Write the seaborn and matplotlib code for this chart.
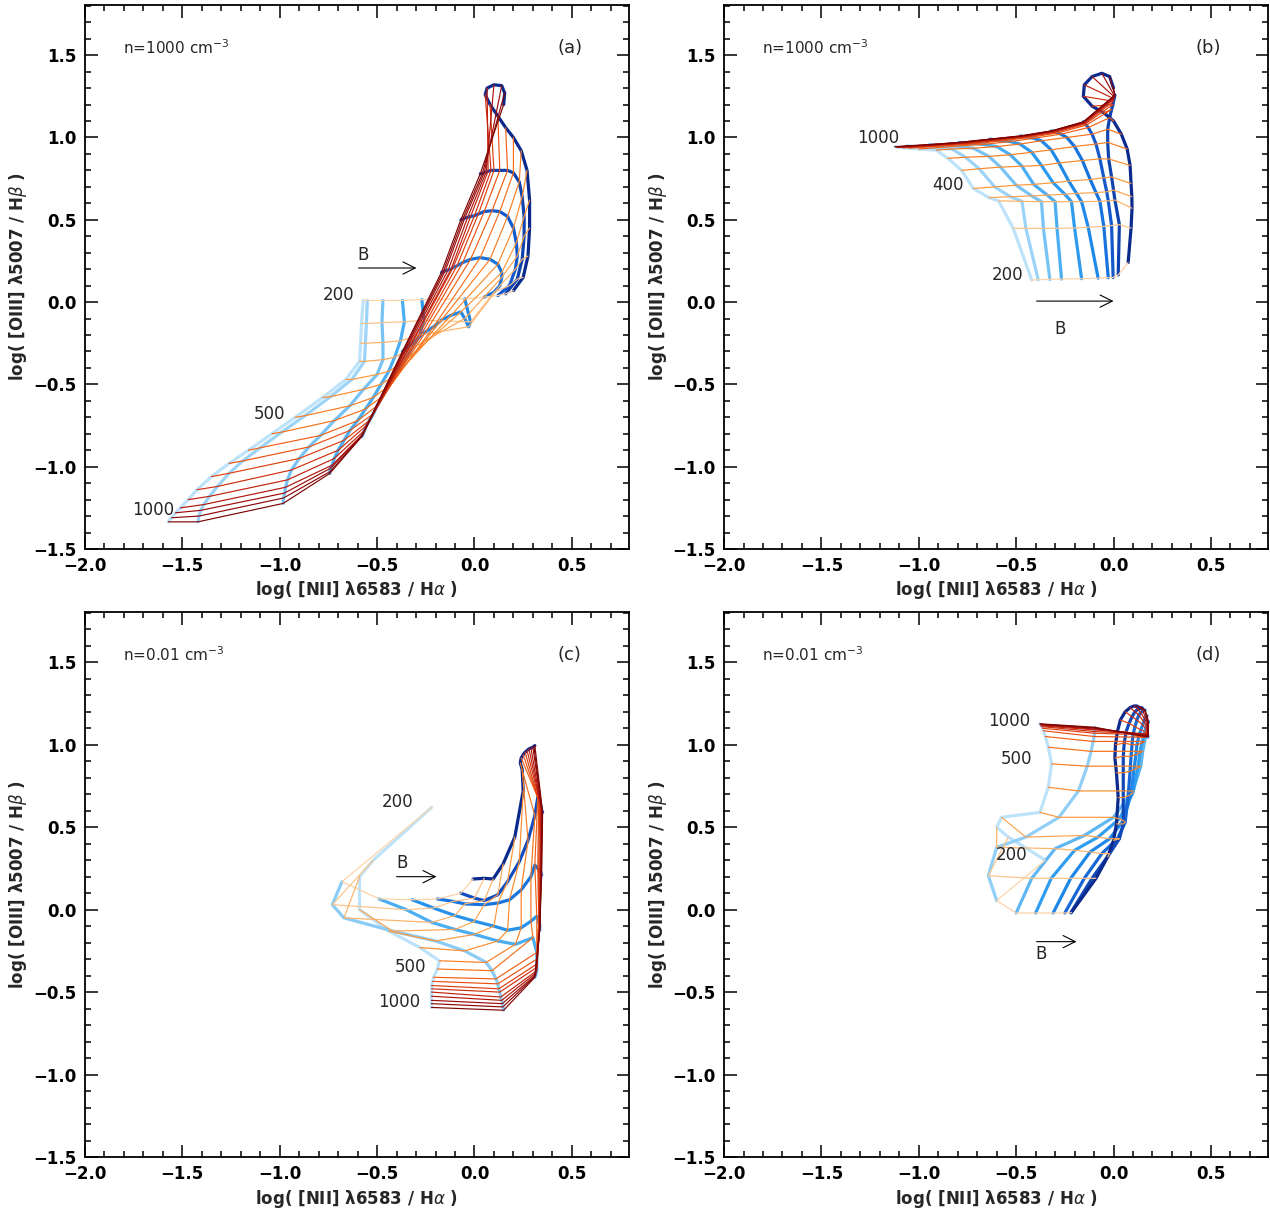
import pandas as pd
import seaborn as sns
import matplotlib.pyplot as plt
from matplotlib.colors import LinearSegmentedColormap
from matplotlib.ticker import MultipleLocator

# shock velocity of every node along a magnetic-field track (km/s)
VELOCITIES = [200, 250, 300, 350, 400, 450, 500, 550, 600, 650, 700, 750, 800, 850, 900, 950, 1000]

# === panel (a): n = 1000, one row per B track (weak -> strong) ===
A_X = [
    [-0.571, -0.58, -0.585, -0.59, -0.66, -0.78, -0.92, -1.04, -1.16, -1.26, -1.35, -1.425, -1.47, -1.51, -1.535, -1.555, -1.572],
    [-0.55, -0.555, -0.56, -0.565, -0.63, -0.74, -0.87, -0.99, -1.10, -1.19, -1.26, -1.32, -1.36, -1.39, -1.405, -1.415, -1.42],
    [-0.47, -0.475, -0.47, -0.47, -0.50, -0.57, -0.64, -0.72, -0.79, -0.85, -0.90, -0.94, -0.96, -0.97, -0.975, -0.98, -0.982],
    [-0.37, -0.36, -0.38, -0.41, -0.44, -0.48, -0.52, -0.56, -0.60, -0.64, -0.67, -0.70, -0.72, -0.73, -0.74, -0.742, -0.743],
    [-0.27, -0.26, -0.28, -0.32, -0.36, -0.40, -0.44, -0.47, -0.50, -0.52, -0.54, -0.555, -0.565, -0.572, -0.576, -0.578, -0.58],
    [-0.05, -0.02, -0.03, -0.05, -0.07, -0.12, -0.17, -0.21, -0.25, -0.28, -0.30, -0.32, -0.33, -0.345, -0.355, -0.365, -0.37],
    [0.05, 0.10, 0.13, 0.14, 0.14, 0.12, 0.08, 0.03, -0.02, -0.06, -0.09, -0.11, -0.12, -0.135, -0.15, -0.16, -0.17],
    [0.12, 0.18, 0.21, 0.22, 0.215, 0.20, 0.17, 0.13, 0.09, 0.05, 0.02, 0.0, -0.02, -0.035, -0.05, -0.06, -0.07],
    [0.16, 0.22, 0.245, 0.255, 0.255, 0.245, 0.23, 0.20, 0.17, 0.13, 0.10, 0.085, 0.07, 0.06, 0.05, 0.04, 0.03],
    [0.20, 0.25, 0.275, 0.283, 0.283, 0.27, 0.24, 0.20, 0.16, 0.12, 0.08, 0.055, 0.065, 0.10, 0.14, 0.155, 0.15],
]
A_Y = [
    [0.01, -0.13, -0.25, -0.36, -0.47, -0.58, -0.70, -0.80, -0.90, -0.98, -1.06, -1.14, -1.20, -1.25, -1.28, -1.31, -1.335],
    [0.01, -0.13, -0.25, -0.36, -0.47, -0.575, -0.69, -0.79, -0.885, -0.965, -1.04, -1.12, -1.18, -1.23, -1.265, -1.30, -1.335],
    [0.01, -0.125, -0.245, -0.35, -0.44, -0.53, -0.63, -0.72, -0.81, -0.88, -0.95, -1.02, -1.08, -1.125, -1.16, -1.19, -1.223],
    [0.01, -0.12, -0.235, -0.335, -0.42, -0.50, -0.58, -0.65, -0.72, -0.78, -0.84, -0.90, -0.95, -0.99, -1.01, -1.03, -1.041],
    [0.015, -0.11, -0.20, -0.28, -0.36, -0.44, -0.51, -0.57, -0.63, -0.68, -0.72, -0.75, -0.78, -0.80, -0.81, -0.815, -0.818],
    [0.02, -0.12, -0.15, -0.10, -0.06, -0.08, -0.11, -0.15, -0.18, -0.21, -0.23, -0.25, -0.26, -0.275, -0.285, -0.295, -0.30],
    [0.03, 0.06, 0.10, 0.15, 0.18, 0.23, 0.26, 0.27, 0.26, 0.24, 0.22, 0.21, 0.20, 0.195, 0.19, 0.185, 0.18],
    [0.04, 0.10, 0.20, 0.28, 0.36, 0.45, 0.52, 0.55, 0.555, 0.55, 0.535, 0.525, 0.52, 0.515, 0.51, 0.505, 0.50],
    [0.05, 0.14, 0.26, 0.40, 0.52, 0.64, 0.73, 0.785, 0.80, 0.80, 0.80, 0.80, 0.795, 0.79, 0.785, 0.78, 0.78],
    [0.07, 0.15, 0.28, 0.45, 0.62, 0.80, 0.92, 1.00, 1.06, 1.13, 1.20, 1.26, 1.30, 1.32, 1.315, 1.27, 1.20],
]

# === panel (b): n = 1000 ===
B_X = [
    [-0.42, -0.515, -0.59, -0.64, -0.72, -0.78, -0.85, -0.91, -1.0, -1.05, -1.08, -1.095, -1.105, -1.11, -1.115, -1.12, -1.123],
    [-0.387, -0.45, -0.47, -0.53, -0.61, -0.69, -0.76, -0.83, -0.92, -0.97, -1.0, -1.02, -1.035, -1.045, -1.05, -1.055, -1.06],
    [-0.327, -0.36, -0.37, -0.42, -0.50, -0.58, -0.64, -0.72, -0.81, -0.86, -0.89, -0.905, -0.915, -0.925, -0.935, -0.94, -0.945],
    [-0.267, -0.29, -0.30, -0.34, -0.41, -0.47, -0.53, -0.60, -0.67, -0.71, -0.735, -0.75, -0.765, -0.775, -0.785, -0.79, -0.795],
    [-0.164, -0.20, -0.216, -0.25, -0.31, -0.37, -0.42, -0.48, -0.53, -0.57, -0.59, -0.605, -0.615, -0.623, -0.628, -0.632, -0.635],
    [-0.079, -0.13, -0.164, -0.19, -0.23, -0.28, -0.32, -0.37, -0.41, -0.43, -0.445, -0.455, -0.462, -0.467, -0.471, -0.474, -0.476],
    [-0.027, -0.05, -0.07, -0.09, -0.12, -0.16, -0.20, -0.24, -0.27, -0.285, -0.295, -0.302, -0.307, -0.311, -0.314, -0.316, -0.318],
    [-0.002, -0.01, -0.027, -0.035, -0.05, -0.07, -0.09, -0.11, -0.13, -0.14, -0.145, -0.148, -0.15, -0.152, -0.153, -0.154, -0.155],
    [0.024, 0.03, 0.007, 0.0, -0.01, -0.025, -0.03, -0.03, -0.02, -0.01, -0.003, 0.0, 0.003, 0.005, 0.006, 0.007, 0.007],
    [0.075, 0.09, 0.095, 0.094, 0.09, 0.085, 0.07, 0.04, 0.0, -0.05, -0.11, -0.155, -0.15, -0.11, -0.06, -0.02, 0.0],
]
B_Y = [
    [0.134, 0.448, 0.615, 0.635, 0.69, 0.80, 0.873, 0.923, 0.93, 0.935, 0.937, 0.939, 0.94, 0.941, 0.942, 0.943, 0.944],
    [0.136, 0.448, 0.612, 0.64, 0.70, 0.81, 0.88, 0.93, 0.937, 0.941, 0.943, 0.945, 0.946, 0.947, 0.948, 0.948, 0.949],
    [0.138, 0.448, 0.61, 0.645, 0.71, 0.82, 0.885, 0.935, 0.947, 0.95, 0.952, 0.953, 0.954, 0.955, 0.956, 0.956, 0.957],
    [0.14, 0.448, 0.61, 0.65, 0.715, 0.825, 0.895, 0.945, 0.958, 0.962, 0.964, 0.966, 0.967, 0.968, 0.969, 0.97, 0.97],
    [0.142, 0.45, 0.61, 0.655, 0.725, 0.83, 0.91, 0.96, 0.975, 0.98, 0.983, 0.985, 0.987, 0.988, 0.989, 0.99, 0.99],
    [0.145, 0.455, 0.61, 0.66, 0.735, 0.845, 0.925, 0.98, 0.995, 1.0, 1.003, 1.005, 1.006, 1.007, 1.008, 1.009, 1.01],
    [0.148, 0.46, 0.612, 0.665, 0.745, 0.86, 0.945, 1.0, 1.02, 1.028, 1.032, 1.035, 1.037, 1.038, 1.039, 1.04, 1.04],
    [0.15, 0.465, 0.615, 0.67, 0.755, 0.87, 0.96, 1.02, 1.06, 1.075, 1.082, 1.086, 1.089, 1.091, 1.093, 1.094, 1.095],
    [0.165, 0.47, 0.62, 0.68, 0.76, 0.87, 0.97, 1.05, 1.12, 1.17, 1.20, 1.22, 1.235, 1.245, 1.25, 1.255, 1.258],
    [0.24, 0.45, 0.57, 0.64, 0.72, 0.83, 0.93, 1.02, 1.10, 1.15, 1.19, 1.25, 1.32, 1.37, 1.39, 1.37, 1.30],
]

# === panel (c): n = 0.01 ===
C_X = [
    [-0.22, -0.52, -0.59, -0.59, -0.44, -0.28, -0.18, -0.19, -0.21, -0.215, -0.22, -0.22, -0.22, -0.221, -0.221, -0.221, -0.221],
    [-0.68, -0.73, -0.67, -0.42, -0.20, -0.05, 0.06, 0.09, 0.11, 0.12, 0.125, 0.13, 0.135, 0.14, 0.143, 0.146, 0.15],
    [-0.49, -0.35, -0.22, -0.10, 0.0, 0.12, 0.21, 0.30, 0.32, 0.32, 0.32, 0.32, 0.32, 0.315, 0.315, 0.31, 0.31],
    [-0.32, -0.21, -0.10, 0.0, 0.10, 0.17, 0.24, 0.29, 0.32, 0.33, 0.33, 0.335, 0.335, 0.335, 0.335, 0.335, 0.335],
    [-0.19, -0.11, -0.05, 0.05, 0.12, 0.18, 0.24, 0.29, 0.31, 0.325, 0.33, 0.335, 0.34, 0.34, 0.342, 0.343, 0.345],
    [-0.07, 0.0, 0.05, 0.12, 0.17, 0.23, 0.275, 0.31, 0.325, 0.33, 0.335, 0.34, 0.342, 0.344, 0.346, 0.348, 0.35],
    [-0.007, 0.05, 0.096, 0.147, 0.207, 0.25, 0.245, 0.235, 0.24, 0.25, 0.26, 0.27, 0.28, 0.29, 0.30, 0.305, 0.31],
]
C_Y = [
    [0.62, 0.30, 0.20, 0.0, -0.13, -0.23, -0.31, -0.36, -0.41, -0.435, -0.46, -0.48, -0.50, -0.525, -0.55, -0.57, -0.593],
    [0.17, 0.03, -0.05, -0.13, -0.19, -0.25, -0.32, -0.37, -0.42, -0.45, -0.48, -0.50, -0.53, -0.55, -0.57, -0.59, -0.61],
    [0.065, 0.0, -0.077, -0.12, -0.15, -0.19, -0.21, -0.17, -0.26, -0.30, -0.33, -0.35, -0.37, -0.385, -0.395, -0.405, -0.41],
    [0.06, 0.01, -0.036, -0.07, -0.10, -0.125, -0.11, -0.07, -0.04, -0.06, -0.08, -0.09, -0.10, -0.11, -0.115, -0.12, -0.125],
    [0.065, 0.05, 0.035, 0.03, 0.04, 0.06, 0.12, 0.20, 0.27, 0.25, 0.24, 0.235, 0.23, 0.225, 0.22, 0.215, 0.21],
    [0.10, 0.07, 0.055, 0.09, 0.17, 0.29, 0.42, 0.57, 0.68, 0.66, 0.64, 0.63, 0.62, 0.61, 0.60, 0.595, 0.59],
    [0.186, 0.19, 0.186, 0.277, 0.44, 0.72, 0.85, 0.89, 0.92, 0.94, 0.955, 0.965, 0.975, 0.98, 0.985, 0.99, 0.995],
]

# === panel (d): n = 0.01 ===
D_X = [
    [-0.35, -0.54, -0.60, -0.575, -0.378, -0.335, -0.318, -0.335, -0.35, -0.36, -0.365, -0.37, -0.372, -0.374, -0.376, -0.377, -0.378],
    [-0.60, -0.643, -0.60, -0.45, -0.28, -0.18, -0.135, -0.115, -0.105, -0.10, -0.098, -0.097, -0.096, -0.096, -0.096, -0.096, -0.096],
    [-0.50, -0.42, -0.30, -0.15, 0.0, 0.10, 0.14, 0.15, 0.16, 0.165, 0.17, 0.172, 0.175, 0.176, 0.177, 0.178, 0.178],
    [-0.40, -0.32, -0.20, -0.08, 0.03, 0.10, 0.125, 0.135, 0.145, 0.155, 0.16, 0.165, 0.17, 0.172, 0.175, 0.177, 0.18],
    [-0.31, -0.22, -0.12, -0.02, 0.05, 0.09, 0.105, 0.115, 0.12, 0.13, 0.14, 0.15, 0.155, 0.16, 0.165, 0.17, 0.172],
    [-0.25, -0.15, -0.06, 0.02, 0.06, 0.075, 0.085, 0.09, 0.095, 0.10, 0.11, 0.12, 0.13, 0.14, 0.15, 0.158, 0.162],
    [-0.22, -0.11, -0.02, 0.03, 0.05, 0.05, 0.05, 0.05, 0.055, 0.065, 0.08, 0.095, 0.11, 0.125, 0.137, 0.145, 0.15],
    [-0.216, -0.09, -0.03, 0.0, 0.015, 0.024, 0.015, 0.007, 0.01, 0.02, 0.035, 0.06, 0.085, 0.105, 0.12, 0.13, 0.14],
]
D_Y = [
    [0.30, 0.44, 0.50, 0.56, 0.59, 0.742, 0.884, 0.985, 1.05, 1.085, 1.10, 1.11, 1.115, 1.12, 1.123, 1.125, 1.127],
    [0.055, 0.206, 0.378, 0.44, 0.56, 0.72, 0.87, 0.96, 1.02, 1.05, 1.07, 1.08, 1.09, 1.095, 1.10, 1.103, 1.106],
    [-0.02, 0.19, 0.37, 0.45, 0.56, 0.72, 0.87, 0.96, 1.02, 1.045, 1.06, 1.065, 1.065, 1.06, 1.055, 1.05, 1.046],
    [-0.02, 0.19, 0.36, 0.44, 0.55, 0.71, 0.86, 0.95, 1.01, 1.05, 1.08, 1.10, 1.11, 1.12, 1.13, 1.135, 1.14],
    [-0.02, 0.19, 0.35, 0.43, 0.54, 0.70, 0.85, 0.94, 1.0, 1.05, 1.09, 1.12, 1.14, 1.155, 1.165, 1.17, 1.175],
    [-0.02, 0.19, 0.34, 0.43, 0.53, 0.69, 0.84, 0.93, 1.0, 1.06, 1.11, 1.15, 1.18, 1.195, 1.205, 1.21, 1.21],
    [-0.02, 0.19, 0.34, 0.43, 0.52, 0.68, 0.83, 0.93, 1.01, 1.08, 1.13, 1.17, 1.20, 1.215, 1.225, 1.225, 1.22],
    [-0.016, 0.19, 0.32, 0.42, 0.52, 0.68, 0.83, 0.92, 1.0, 1.08, 1.15, 1.20, 1.225, 1.235, 1.235, 1.228, 1.22],
]

PANEL_TAGS = ["(a)", "(b)", "(c)", "(d)"]
DENSITY_TEXT = ["n=1000 cm$^{-3}$", "n=1000 cm$^{-3}$", "n=0.01 cm$^{-3}$", "n=0.01 cm$^{-3}$"]
# velocity labels: (text, x, y) in data units
VEL_LABELS = [
    [("200", -0.70, 0.045), ("500", -1.05, -0.68), ("1000", -1.65, -1.265)],
    [("1000", -1.21, 0.995), ("400", -0.85, 0.71), ("200", -0.545, 0.165)],
    [("200", -0.395, 0.655), ("500", -0.33, -0.345), ("1000", -0.385, -0.558)],
    [("1000", -0.535, 1.147), ("500", -0.50, 0.916), ("200", -0.525, 0.334)],
]
# B arrow: (x_start, x_end, y, label_x, label_y)
B_ARROWS = [
    (-0.595, -0.298, 0.207, -0.57, 0.285),
    (-0.395, 0.0, 0.006, -0.272, -0.164),
    (-0.40, -0.195, 0.20, -0.37, 0.285),
    (-0.395, -0.19, -0.194, -0.37, -0.267),
]

X_TICKS = [-2.0, -1.5, -1.0, -0.5, 0.0, 0.5]
Y_TICKS = [-1.5, -1.0, -0.5, 0.0, 0.5, 1.0, 1.5]

BLUES = LinearSegmentedColormap.from_list(
    "btrack", ["#bde3fb", "#7fc7f5", "#33a2f1", "#1a82e8", "#1255c8", "#0a2a8e"])
REDS = LinearSegmentedColormap.from_list(
    "vtrack", ["#fdd2a5", "#fdae61", "#fd8f2e", "#f7731b", "#ea4e10", "#cc280c", "#a30d0c", "#7d0505"])


def grid_frame(xs, ys):
    rows = []
    for b, (bx, by) in enumerate(zip(xs, ys)):
        for v, x, y in zip(VELOCITIES, bx, by):
            rows.append((b, v, x, y))
    return pd.DataFrame(rows, columns=["b", "v", "x", "y"])


def draw_grid(ax, xs, ys):
    df = grid_frame(xs, ys)
    nb = len(xs)
    b_pal = {b: BLUES(b / (nb - 1)) for b in range(nb)}
    v_pal = {v: REDS(i / (len(VELOCITIES) - 1)) for i, v in enumerate(VELOCITIES)}

    # constant-B tracks (blue), then constant-velocity tracks on top
    sns.lineplot(data=df, x="x", y="y", hue="b", palette=b_pal, sort=False,
                 estimator=None, linewidth=2.3, legend=False, ax=ax)
    sns.lineplot(data=df.sort_values(["v", "b"]), x="x", y="y", hue="v", palette=v_pal,
                 sort=False, estimator=None, linewidth=0.85, legend=False, ax=ax)


def style_axes(ax):
    ax.set_xlim(-2.0, 0.793)
    ax.set_ylim(-1.5, 1.805)
    ax.set_xticks(X_TICKS)
    ax.set_xticklabels([f"{t:.1f}".replace("-", "\u2212") for t in X_TICKS])
    ax.set_yticks(Y_TICKS)
    ax.set_yticklabels([f"{t:.1f}".replace("-", "\u2212") for t in Y_TICKS])
    ax.xaxis.set_minor_locator(MultipleLocator(0.1))
    ax.yaxis.set_minor_locator(MultipleLocator(0.1))
    ax.tick_params(which="both", direction="in", top=True, right=True, width=1.1,
                   labelsize=12, colors="black")
    ax.tick_params(which="major", length=9, pad=6)
    ax.tick_params(which="minor", length=4.5)
    for lab in ax.get_xticklabels() + ax.get_yticklabels():
        lab.set_fontweight("bold")
    for sp in ax.spines.values():
        sp.set_linewidth(1.3)
        sp.set_color("black")
    ax.set_xlabel("log( [NII] \u03bb6583 / H$\\alpha$ )", fontsize=12, fontweight="bold")
    ax.set_ylabel("log( [OIII] \u03bb5007 / H$\\beta$ )", fontsize=12, fontweight="bold")
    ax.xaxis.set_label_coords(0.5, -0.056)
    ax.yaxis.set_label_coords(-0.102, 0.5)


sns.set_style("ticks")
plt.rcParams["font.family"] = ["DejaVu Sans"]
plt.rcParams["mathtext.fontset"] = "dejavusans"

fig = plt.figure(figsize=(12.7, 12.09), dpi=100)
boxes = [
    (0.0669, 0.5459, 0.4283, 0.4500),
    (0.5701, 0.5459, 0.4283, 0.4500),
    (0.0669, 0.0430, 0.4283, 0.4508),
    (0.5701, 0.0430, 0.4283, 0.4508),
]
grids = [(A_X, A_Y), (B_X, B_Y), (C_X, C_Y), (D_X, D_Y)]

for k, box in enumerate(boxes):
    ax = fig.add_axes(box)
    xs, ys = grids[k]
    draw_grid(ax, xs, ys)
    style_axes(ax)

    ax.text(0.07, 0.921, DENSITY_TEXT[k], transform=ax.transAxes, fontsize=11,
            ha="left", va="center")
    ax.text(0.891, 0.921, PANEL_TAGS[k], transform=ax.transAxes, fontsize=13,
            ha="center", va="center")
    for txt, tx, ty in VEL_LABELS[k]:
        ax.text(tx, ty, txt, fontsize=12, ha="center", va="center")
    x0, x1, ya, bx, by = B_ARROWS[k]
    ax.annotate("", xy=(x1, ya), xytext=(x0, ya),
                arrowprops=dict(arrowstyle="->", color="black", lw=0.8,
                                mutation_scale=22, shrinkA=0, shrinkB=0))
    ax.text(bx, by, "B", fontsize=12, ha="center", va="center")

fig.savefig("out.png", dpi=100)
